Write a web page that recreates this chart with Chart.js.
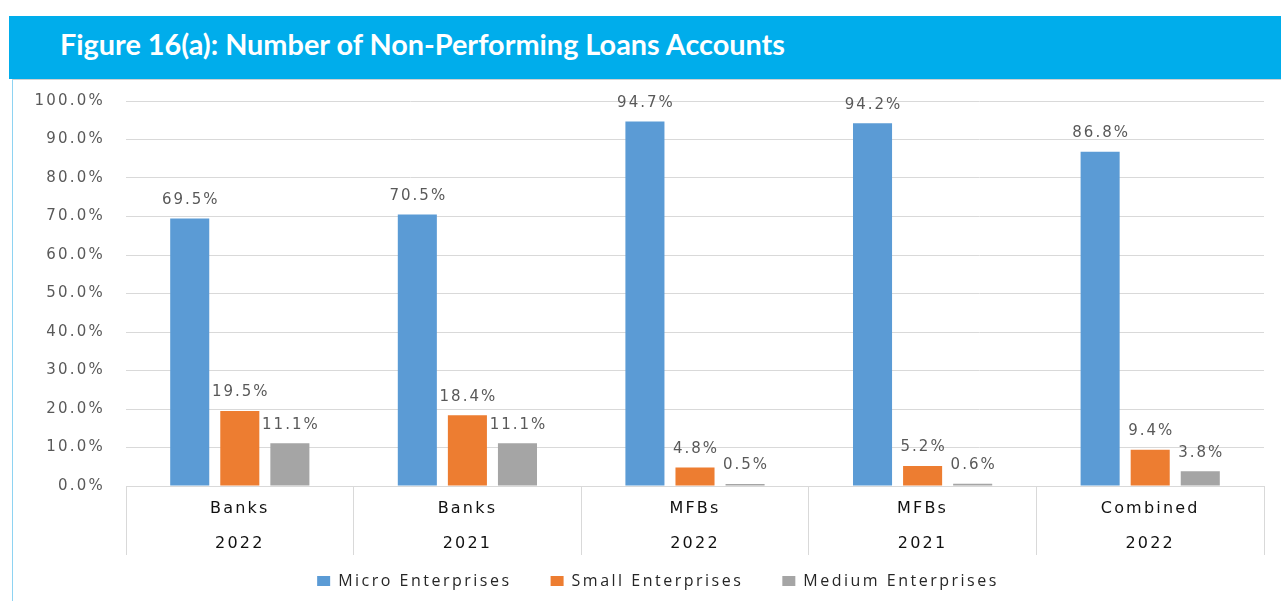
<!DOCTYPE html>
<html>
<head>
<meta charset="utf-8">
<script src="https://cdn.jsdelivr.net/npm/chart.js@4.4.1/dist/chart.umd.min.js"></script>
<style>
  html, body { margin: 0; padding: 0; background: #fff; }
  body { width: 1281px; height: 601px; position: relative; overflow: hidden; }
  #banner { position: absolute; left: 9px; top: 16px; width: 1272px; height: 63px; background: #00ADEB; }
  #title { position: absolute; left: 60px; top: 25px; font-family: Lato, "Open Sans", sans-serif; font-weight: 700;
           font-size: 29px; line-height: 38px; color: #fff; white-space: nowrap; transform-origin: 0 50%; }
  #frameTop { position: absolute; left: 12px; top: 79px; width: 1269px; height: 1px; background: #D0D0D0; }
  #frameLeft { position: absolute; left: 12px; top: 80px; width: 1px; height: 521px; background: #8ED3F2; }
  #wrap { position: absolute; left: 13px; top: 81px; width: 1268px; height: 520px; }
</style>
</head>
<body>
<div id="banner"></div>
<div id="title">Figure 16(a): Number of Non-Performing Loans Accounts</div>
<div id="frameTop"></div>
<div id="frameLeft"></div>
<div id="wrap"><canvas id="c" width="1268" height="520"></canvas></div>
<script>
// ---- data ----
const institutions = ['Banks', 'Banks', 'MFBs', 'MFBs', 'Combined'];
const years = ['2022', '2021', '2022', '2021', '2022'];
const seriesNames = ['Micro Enterprises', 'Small Enterprises', 'Medium Enterprises'];
const microValues = [69.5, 70.5, 94.7, 94.2, 86.8];
const smallValues = [19.5, 18.4, 4.8, 5.2, 9.4];
const mediumValues = [11.1, 11.1, 0.5, 0.6, 3.8];
const yTicks = [0, 10, 20, 30, 40, 50, 60, 70, 80, 90, 100];

// fit title width to reference
(function () {
  const t = document.getElementById('title');
  const w = t.getBoundingClientRect().width;
  t.style.transform = 'scaleX(' + (725 / w) + ')';
})();

const colors = ['#5B9BD5', '#ED7D31', '#A5A5A5'];
const labels = institutions.map((s, i) => [s, years[i]]);

const LEGEND_SPACING = '2.5px';
const TICK_SPACING = '2.2px';

const helperPlugin = {
  id: 'helper',
  beforeLayout(chart) { chart.ctx.letterSpacing = LEGEND_SPACING; },
  afterLayout(chart) {
    // center legend under the reference position and let the two-line category labels show
    const lg = chart.legend;
    lg.left += 19.5; lg.right += 19.5;
    const x = chart.scales.x;
    x.bottom = x.top + 80;
  },
  beforeDraw(chart) { chart.ctx.letterSpacing = LEGEND_SPACING; },
  afterDatasetsDraw(chart) {
    const ctx = chart.ctx;
    ctx.save();
    ctx.letterSpacing = '2px';
    ctx.font = '15px "DejaVu Sans"';
    ctx.fillStyle = '#595959';
    ctx.textAlign = 'center';
    ctx.textBaseline = 'middle';
    chart.data.datasets.forEach((ds, di) => {
      const meta = chart.getDatasetMeta(di);
      meta.data.forEach((bar, i) => {
        ctx.fillText(ds.data[i].toFixed(1) + '%', bar.x + 1, bar.y - 18.5);
      });
    });
    ctx.restore();
    ctx.letterSpacing = TICK_SPACING;
  }
};

new Chart(document.getElementById('c'), {
  type: 'bar',
  data: {
    labels: labels,
    datasets: [
      { label: seriesNames[0], data: microValues, backgroundColor: colors[0] },
      { label: seriesNames[1], data: smallValues, backgroundColor: colors[1] },
      { label: seriesNames[2], data: mediumValues, backgroundColor: colors[2] }
    ]
  },
  options: {
    responsive: false,
    animation: false,
    devicePixelRatio: 1,
    layout: { padding: { left: 0, right: 17, top: 20, bottom: 2 } },
    datasets: { bar: { categoryPercentage: 0.66, barPercentage: 0.78 } },
    plugins: {
      legend: {
        position: 'bottom',
        labels: {
          boxWidth: 13, boxHeight: 10, padding: 39,
          color: '#262626',
          font: { family: '"Open Sans"', size: 16 }
        }
      },
      tooltip: { enabled: false }
    },
    scales: {
      x: {
        afterFit(s) { s.height = 48; },
        grid: { display: true, drawOnChartArea: false, drawTicks: true, tickLength: 69, offset: true, color: '#D9D9D9', lineWidth: 1 },
        border: { display: true, color: '#D9D9D9' },
        ticks: {
          z: 1, autoSkip: false, maxRotation: 0, padding: -63.5,
          color: '#111111',
          font: { family: '"DejaVu Sans"', size: 16, lineHeight: 2.1875 }
        }
      },
      y: {
        min: 0, max: 100,
        afterFit(s) { s.width = 113; s.paddingTop = 0; s.paddingBottom = 0; },
        afterBuildTicks(s) { s.ticks = yTicks.map(v => ({ value: v })); },
        grid: { color: '#D9D9D9', lineWidth: 1, drawTicks: false },
        border: { display: false },
        ticks: {
          z: 1, padding: 21,
          color: '#595959',
          font: { family: '"DejaVu Sans"', size: 15 },
          callback: (v) => Number(v).toFixed(1) + '%'
        }
      }
    }
  },
  plugins: [helperPlugin]
});
</script>
</body>
</html>
